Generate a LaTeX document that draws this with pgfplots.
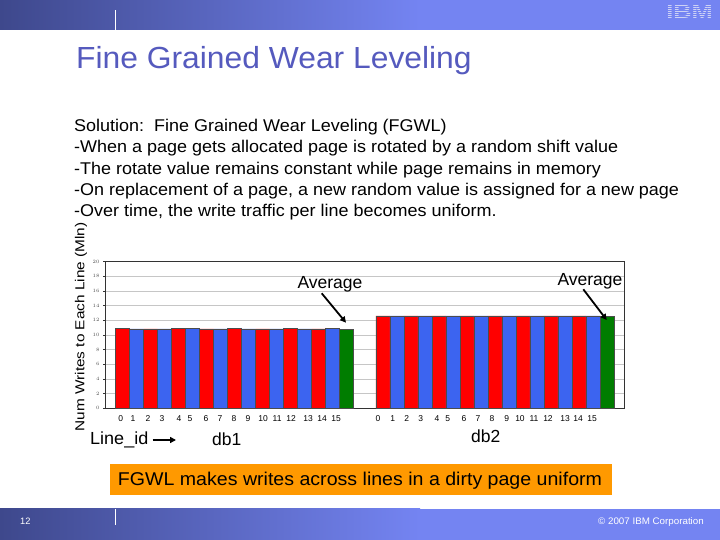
\documentclass[border=0pt]{standalone}
\usepackage{pgfplots}
\pgfplotsset{compat=1.18}
\usepackage{fontspec}
\setmainfont{Liberation Sans}
\usetikzlibrary{arrows.meta}
\definecolor{barred}{RGB}{255,0,0}
\definecolor{barblue}{RGB}{60,100,240}
\definecolor{bargreen}{RGB}{0,125,0}
\definecolor{titleblue}{RGB}{85,90,190}
\definecolor{orangebox}{RGB}{255,153,0}
\definecolor{hdark}{RGB}{62,72,140}
\definecolor{hlight}{RGB}{116,132,242}
\definecolor{logo}{RGB}{205,210,245}
\newcommand\fs[1]{\fontsize{#1bp}{#1bp}\selectfont}
\begin{document}
\begin{tikzpicture}[x=1bp,y=1bp]
\useasboundingbox (0,0) rectangle (720,540);
\fill[white] (0,0) rectangle (720,540);
\coordinate (AX) at (105,131.7);
% header
\fill[hlight] (0,510) rectangle (720,540);
\shade[left color=hdark, right color=hlight] (0,510) rectangle (420,540);
\draw[white, line width=1bp] (115,510) -- (115,530);
% IBM logo
\node[text=logo, inner sep=0pt] at (689.5,528.5) {\fs{19.5}\bfseries\scalebox{1.3}[1]{IBM}};
\foreach \k in {0,...,7} {\draw[hlight, line width=0.7bp] (664,521.2+\k*2) -- (715,521.2+\k*2);}
% footer
\fill[hlight] (0,0) rectangle (720,31);
\shade[left color=hdark, right color=hlight] (0,0) rectangle (420,31);
\draw[white, line width=1bp] (115,15) -- (115,31);
\node[anchor=base west, text=white, inner sep=0pt] at (20,15) {\fs{9.3}12};
\node[anchor=base east, text=white, inner sep=0pt] at (704,15.6) {\fs{9.5}\scalebox{1.03}[1]{© 2007 IBM Corporation}};
% title
\node[anchor=base west, text=titleblue, inner sep=0pt] at (76,471) {\fs{30.5}\scalebox{1.043}[1]{Fine Grained Wear Leveling}};
% body text
\node[anchor=base west, inner sep=0pt] at (74,408.5) {\fs{17}\scalebox{1.058}[1]{Solution:\ \ Fine Grained Wear Leveling (FGWL)}};
\node[anchor=base west, inner sep=0pt] at (74,387.2) {\fs{17}\scalebox{1.058}[1]{-When a page gets allocated page is rotated by a random shift value}};
\node[anchor=base west, inner sep=0pt] at (74,365.9) {\fs{17}\scalebox{1.058}[1]{-The rotate value remains constant while page remains in memory}};
\node[anchor=base west, inner sep=0pt] at (74,344.6) {\fs{17}\scalebox{1.058}[1]{-On replacement of a page, a new random value is assigned for a new page}};
\node[anchor=base west, inner sep=0pt] at (74,323.3) {\fs{17}\scalebox{1.058}[1]{-Over time, the write traffic per line becomes uniform.}};
% y label
\node[rotate=90, inner sep=0pt] at (81,213) {\fs{13}\scalebox{1.18}[1]{Num Writes to Each Line (Mln)}};
\begin{axis}[
  at={(AX)}, anchor=south west,
  scale only axis, width=519bp, height=146.6bp,
  xmin=0, xmax=37.07, ymin=0, ymax=20,
  axis line style={black!80, line width=0.5bp},
  ytick={0,2,...,20},
  ymajorgrids, grid style={gray!45, line width=0.6bp},
  yticklabel style={font=\fs{5}, text=black!70},
  tick pos=left, tick align=outside, major tick length=2bp,
  y tick style={black!80, line width=0.4bp},
  xtick={1.12,2.0,3.07,4.07,5.29,6.07,7.21,8.21,9.21,10.21,11.29,12.29,13.29,14.5,15.5,16.5,
         19.5,20.55,21.55,22.55,23.71,24.48,25.64,26.64,27.64,28.69,29.64,30.64,31.64,32.86,33.79,34.79},
  xticklabels={0,1,2,3,4,5,6,7,8,9,10,11,12,13,14,15,0,1,2,3,4,5,6,7,8,9,10,11,12,13,14,15},
  x tick style={draw=none},
  xticklabel style={font=\fs{8.5}, yshift=-1.5bp},
  clip=false,
]
\addplot[ybar, bar shift=0pt, bar width=1, fill=barred, draw=black!70, line width=0.5bp]
  coordinates {(1.26,10.9) (3.26,10.85) (5.26,10.9) (7.26,10.85) (9.26,10.9) (11.26,10.85) (13.26,10.9) (15.26,10.85)};
\addplot[ybar, bar shift=0pt, bar width=1, fill=barblue, draw=black!70, line width=0.5bp]
  coordinates {(2.26,10.85) (4.26,10.85) (6.26,10.9) (8.26,10.85) (10.26,10.85) (12.26,10.85) (14.26,10.85) (16.26,10.9)};
\addplot[ybar, bar shift=0pt, bar width=1, fill=bargreen, draw=black!70, line width=0.5bp]
  coordinates {(17.26,10.85)};
\addplot[ybar, bar shift=0pt, bar width=1, fill=barred, draw=black!70, line width=0.5bp]
  coordinates {(19.84,12.6) (21.84,12.6) (23.84,12.6) (25.84,12.6) (27.84,12.6) (29.84,12.6) (31.84,12.6) (33.84,12.6)};
\addplot[ybar, bar shift=0pt, bar width=1, fill=barblue, draw=black!70, line width=0.5bp]
  coordinates {(20.84,12.6) (22.84,12.6) (24.84,12.6) (26.84,12.6) (28.84,12.6) (30.84,12.6) (32.84,12.6) (34.84,12.6)};
\addplot[ybar, bar shift=0pt, bar width=1, fill=bargreen, draw=black!70, line width=0.5bp]
  coordinates {(35.84,12.6)};
\end{axis}
% annotations
\node[inner sep=0pt] at (330,256) {\fs{17.5}Average};
\draw[line width=1.8bp, -{Triangle[length=6bp,width=6bp]}] (321.7,246.7) -- (346,217.3);
\node[inner sep=0pt] at (590,259) {\fs{17.5}Average};
\draw[line width=1.8bp, -{Triangle[length=6bp,width=6bp]}] (583.3,250.7) -- (606.7,220);
\node[anchor=base west, inner sep=0pt] at (90,95) {\fs{17.5}\scalebox{1.03}[1]{Line\_id}};
\draw[line width=1.8bp, -{Triangle[length=6bp,width=6bp]}] (152.7,100) -- (176,100);
\node[anchor=base west, inner sep=0pt] at (212,94) {\fs{17.5}db1};
\node[anchor=base west, inner sep=0pt] at (471,97) {\fs{17.5}db2};
% orange box
\fill[orangebox] (110,45) rectangle (612,76);
\node[anchor=base, inner sep=0pt] at (360,54) {\fs{18.5}\scalebox{1.058}[1]{FGWL makes writes across lines in a dirty page uniform}};
\end{tikzpicture}
\end{document}
